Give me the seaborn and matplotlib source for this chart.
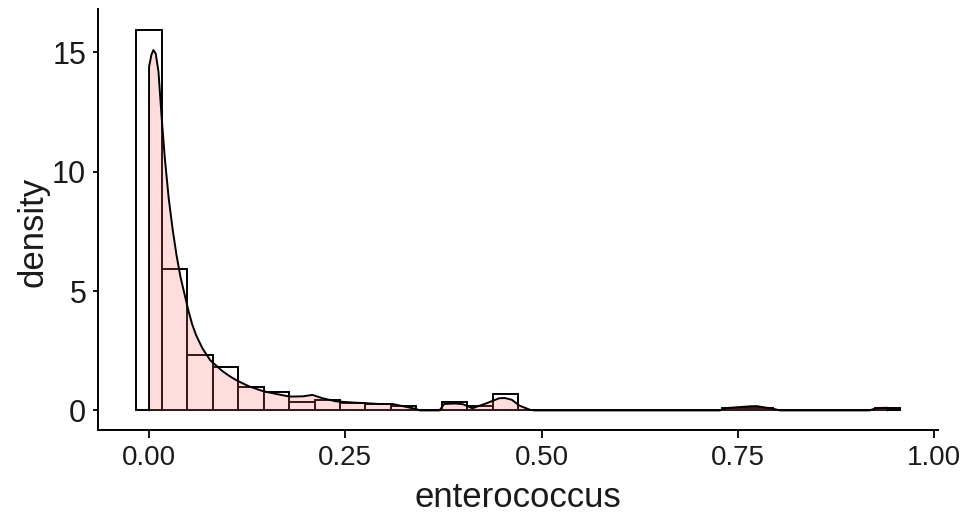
import numpy as np
import pandas as pd
import matplotlib
matplotlib.use("Agg")
import matplotlib.pyplot as plt
import seaborn as sns

# ---- data ----
bin_width = 0.03244
bin_start = -0.01622
hist_density = [15.95, 5.92, 2.31, 1.81, 0.98, 0.79, 0.35, 0.45, 0.30, 0.27,
                 0.20, 0.00, 0.34, 0.17, 0.69, 0.00, 0.00, 0.00, 0.00, 0.00,
                 0.00, 0.00, 0.00, 0.12, 0.12, 0.00, 0.00, 0.00, 0.00, 0.12]

kde_x = [0.0, 0.0, 0.003, 0.0055, 0.0085, 0.012, 0.016, 0.020, 0.025, 0.030,
         0.035, 0.040, 0.045, 0.050, 0.055, 0.060, 0.068, 0.078, 0.093, 0.102,
         0.112, 0.128, 0.145, 0.162, 0.179, 0.196, 0.208, 0.221, 0.238, 0.255,
         0.272, 0.293, 0.310, 0.323, 0.340, 0.345, 0.370, 0.376, 0.390, 0.400,
         0.412, 0.430, 0.446, 0.453, 0.462, 0.472, 0.485, 0.491, 0.727, 0.736,
         0.765, 0.774, 0.795, 0.804, 0.918, 0.925, 0.935, 0.9407, 0.9407]
kde_y = [0.0, 14.4, 14.9, 15.1, 14.95, 14.2, 12.3, 10.6, 8.9, 7.6,
         6.5, 5.6, 4.9, 4.2, 3.6, 3.15, 2.6, 2.1, 1.66, 1.45,
         1.25, 1.0, 0.81, 0.69, 0.58, 0.59, 0.65, 0.51, 0.38, 0.34,
         0.31, 0.27, 0.27, 0.18, 0.06, 0.0, 0.0, 0.27, 0.29, 0.26,
         0.09, 0.30, 0.51, 0.52, 0.45, 0.20, 0.03, 0.0, 0.0, 0.10,
         0.17, 0.18, 0.07, 0.0, 0.0, 0.08, 0.11, 0.11, 0.0]

x_ticks = [0.0, 0.25, 0.50, 0.75, 1.00]
x_tick_labels = ["0.00", "0.25", "0.50", "0.75", "1.00"]
y_ticks = [0, 5, 10, 15]
y_tick_labels = ["0", "5", "10", "15"]
x_label = "enterococcus"
y_label = "density"

# ---- drawing ----
sns.set_theme(style="ticks")
plt.rcParams["font.family"] = ["Liberation Sans", "DejaVu Sans"]

n_bins = len(hist_density)
edges = [bin_start + bin_width * k for k in range(n_bins + 1)]
centers = [(edges[k] + edges[k + 1]) / 2 for k in range(n_bins)]
hist_df = pd.DataFrame({"x": centers, "w": hist_density})
kde_df = pd.DataFrame({"x": kde_x, "y": kde_y})

fig, ax = plt.subplots(figsize=(9.63, 5.15), dpi=100)
fig.subplots_adjust(left=0.1018, right=0.9745, bottom=0.166, top=0.9816)

sns.histplot(data=hist_df, x="x", weights="w", bins=edges, stat="count",
             color="white", edgecolor="black", linewidth=1.4, alpha=1.0, ax=ax)

ax.fill_between(kde_df["x"], kde_df["y"], color="#FF6666", alpha=0.22, linewidth=0)
sns.lineplot(data=kde_df, x="x", y="y", sort=False, estimator=None, color="black",
             linewidth=1.4, ax=ax)

ax.set_xlim(-0.065, 1.0057)
ax.set_ylim(-0.8, 16.8)
ax.set_xticks(x_ticks)
ax.set_xticklabels(x_tick_labels)
ax.set_yticks(y_ticks)
ax.set_yticklabels(y_tick_labels)

for s in ["top", "right"]:
    ax.spines[s].set_visible(False)
for s in ["left", "bottom"]:
    ax.spines[s].set_linewidth(1.4)
    ax.spines[s].set_color("black")

ax.tick_params(axis="x", length=6, width=1.3, color="black", labelsize=20,
               labelcolor="#1a1a1a", pad=5)
ax.tick_params(axis="y", length=3.5, width=1.3, color="black", labelsize=22,
               labelcolor="#1a1a1a", pad=5)
ax.set_xlabel(x_label, fontsize=25, color="#1a1a1a", labelpad=7)
ax.set_ylabel(y_label, fontsize=25, color="#1a1a1a")
ax.yaxis.set_label_coords(-0.058, 0.47)
ax.grid(False)
ax.set_facecolor("white")
fig.patch.set_facecolor("white")

fig.savefig("out.png", dpi=100, facecolor="white")
